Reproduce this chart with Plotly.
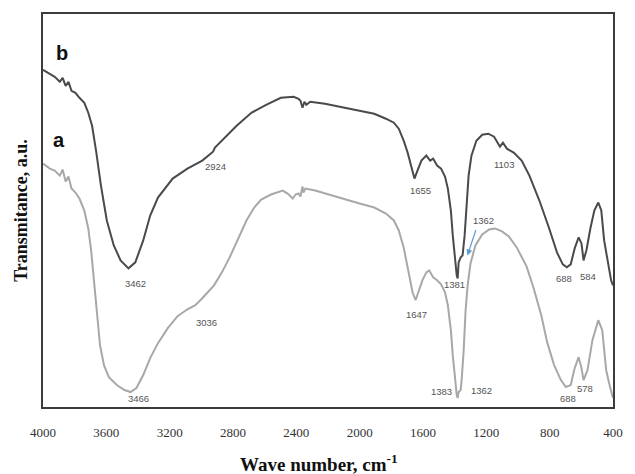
import plotly.graph_objects as go

# FTIR spectra: wavenumber (cm-1) and transmittance (a.u.)
wn_b = [4000, 3957, 3926, 3894, 3876, 3857, 3839, 3820, 3795, 3770, 3739, 3714, 3690, 3665,
        3634, 3597, 3553, 3510, 3460, 3417, 3367, 3323, 3274, 3181, 3088, 2994, 2939, 2926,
        2914, 2870, 2777, 2684, 2591, 2498, 2417, 2386, 2374, 2361, 2349, 2337, 2312, 2219,
        2094, 2001, 1908, 1834, 1784, 1753, 1722, 1697, 1672, 1654, 1635, 1610, 1579, 1555,
        1536, 1511, 1486, 1461, 1443, 1424, 1412, 1400, 1387, 1381, 1375, 1362, 1350, 1337,
        1325, 1312, 1294, 1263, 1226, 1188, 1151, 1126, 1114, 1095, 1070, 1027, 977, 928,
        865, 803, 754, 717, 692, 667, 642, 617, 599, 586, 568, 543, 518, 493, 474, 456,
        431, 412, 400]
t_b = [84.5, 83.5, 82.75, 81.5, 82.5, 80.5, 81.5, 79.25, 78.75, 77.5, 76.25, 73.75, 70.5,
       64.25, 55.5, 46.75, 40.5, 36.75, 34.75, 36.25, 41.75, 48.0, 52.5, 57.25, 59.75, 61.75,
       63.75, 64.0, 65.0, 66.75, 70.5, 73.75, 75.75, 77.5, 77.75, 77.25, 76.75, 75.0, 76.5,
       75.75, 76.5, 76.0, 75.0, 74.25, 73.5, 72.25, 71.25, 69.75, 66.75, 63.75, 59.75, 57.25,
       59.25, 61.75, 63.0, 61.75, 62.25, 60.5, 59.75, 57.75, 54.75, 49.25, 43.0, 37.25, 33.0,
       32.25, 36.25, 37.5, 38.0, 43.0, 51.75, 58.0, 63.0, 66.75, 68.25, 68.5, 67.75, 66.0,
       65.25, 66.25, 64.75, 63.75, 61.75, 58.0, 51.75, 44.75, 38.75, 35.75, 35.0, 35.75,
       39.75, 42.5, 41.0, 36.75, 39.25, 44.75, 49.25, 51.25, 49.25, 41.75, 35.5, 31.75, 30.5]

wn_a = [4000, 3957, 3926, 3894, 3876, 3857, 3839, 3820, 3795, 3770, 3739, 3714, 3696, 3677,
        3659, 3640, 3615, 3584, 3534, 3485, 3448, 3410, 3367, 3323, 3274, 3212, 3150, 3088,
        3038, 2994, 2920, 2870, 2821, 2777, 2715, 2666, 2622, 2560, 2486, 2455, 2423, 2405,
        2386, 2374, 2361, 2355, 2343, 2281, 2157, 2001, 1908, 1834, 1784, 1753, 1722, 1691,
        1666, 1647, 1629, 1604, 1579, 1561, 1536, 1511, 1486, 1461, 1443, 1424, 1412, 1400,
        1387, 1381, 1375, 1362, 1356, 1343, 1331, 1318, 1300, 1269, 1226, 1182, 1145, 1101,
        1058, 1008, 946, 903, 853, 816, 772, 729, 698, 667, 642, 617, 599, 586, 561, 530,
        493, 468, 443, 425, 400]
t_a = [61.0, 59.75, 59.25, 58.0, 59.5, 56.5, 57.75, 54.75, 53.75, 52.25, 49.25, 44.75, 39.25,
       30.5, 22.25, 15.5, 10.5, 7.5, 5.5, 4.25, 3.75, 4.75, 8.0, 12.25, 16.0, 19.75, 22.75,
       24.5, 25.5, 27.25, 30.5, 33.75, 37.5, 41.25, 46.75, 50.0, 52.0, 53.25, 54.25, 53.5,
       52.25, 53.25, 53.5, 52.75, 55.25, 53.75, 54.75, 54.25, 52.75, 51.0, 50.0, 48.5, 46.75,
       44.25, 40.0, 33.75, 28.75, 26.75, 28.75, 31.75, 33.75, 34.25, 32.5, 31.75, 30.75,
       28.75, 25.5, 19.25, 13.0, 7.25, 3.0, 2.25, 3.75, 4.25, 6.75, 14.25, 24.25, 30.5, 36.0,
       40.5, 43.25, 44.5, 44.75, 44.0, 42.75, 40.0, 35.25, 30.0, 23.0, 16.25, 10.5, 6.75, 5.0,
       5.5, 9.75, 12.5, 9.75, 6.75, 9.25, 16.75, 21.75, 19.25, 9.25, 6.0, 2.25]

# Band labels: (text, wavenumber, transmittance)
peak_labels = [
    ("2924", 2908, 60.25), ("3462", 3417, 31.0), ("3036", 2970, 21.25), ("3466", 3398, 2.25),
    ("1655", 1617, 54.25), ("1103", 1089, 60.75), ("1362", 1220, 46.75), ("1381", 1400, 30.75),
    ("1647", 1640, 23.25), ("1383", 1485, 4.0), ("1362", 1232, 4.25),
    ("688", 711, 32.25), ("584", 555, 32.75), ("688", 686, 2.25), ("578", 580, 4.75),
]
x_ticks = [4000, 3600, 3200, 2800, 2400, 2000, 1600, 1200, 800, 400]

fig = go.Figure()
fig.add_trace(go.Scatter(x=wn_a, y=t_a, mode="lines",
                         line=dict(color="#a8a8a8", width=2), showlegend=False))
fig.add_trace(go.Scatter(x=wn_b, y=t_b, mode="lines",
                         line=dict(color="#4a4a4a", width=2), showlegend=False))

for text, x, y in peak_labels:
    fig.add_annotation(x=x, y=y, text=text, showarrow=False,
                       font=dict(family="Liberation Sans", size=9.5, color="#555555"))

# arrow pointing at the 1362 shoulder of spectrum b
fig.add_annotation(x=1319, y=38.0, ax=1263, ay=44.75, axref="x", ayref="y",
                   text="", showarrow=True, arrowhead=2, arrowsize=1, arrowwidth=1.2,
                   arrowcolor="#5b9bd5")

# spectrum letters
fig.add_annotation(x=3882, y=88.75, text="<b>b</b>", showarrow=False,
                   font=dict(family="Liberation Sans", size=20, color="#111111"))
fig.add_annotation(x=3901, y=67.0, text="<b>a</b>", showarrow=False,
                   font=dict(family="Liberation Sans", size=20, color="#111111"))

# axis titles
fig.add_annotation(xref="paper", yref="paper", x=0.485, y=-0.142,
                   xanchor="center", yanchor="middle",
                   text="<b>Wave number, cm<sup>-1</sup></b>", showarrow=False,
                   font=dict(family="Liberation Serif", size=19, color="#111111"))
fig.add_annotation(xref="paper", yref="paper", x=-0.0397, y=0.5, textangle=-90,
                   xanchor="center", yanchor="middle",
                   text="<b>Transmitance, a.u.</b>", showarrow=False,
                   font=dict(family="Liberation Serif", size=18, color="#111111"))

fig.update_xaxes(range=[4000, 400], tickvals=x_ticks, ticktext=[str(v) for v in x_ticks],
                 showgrid=False, zeroline=False, showline=True, mirror=True,
                 linecolor="#3c3c3c", linewidth=2, ticks="", ticklabelstandoff=12,
                 tickfont=dict(family="Liberation Serif", size=13, color="#333333"))
fig.update_yaxes(range=[0, 98.5], showticklabels=False, showgrid=False, zeroline=False,
                 showline=True, mirror=True, linecolor="#3c3c3c", linewidth=2, ticks="")

fig.update_layout(width=635, height=474, margin=dict(l=43, r=12, t=13, b=67),
                  plot_bgcolor="white", paper_bgcolor="white")

fig.write_html("out.html")
